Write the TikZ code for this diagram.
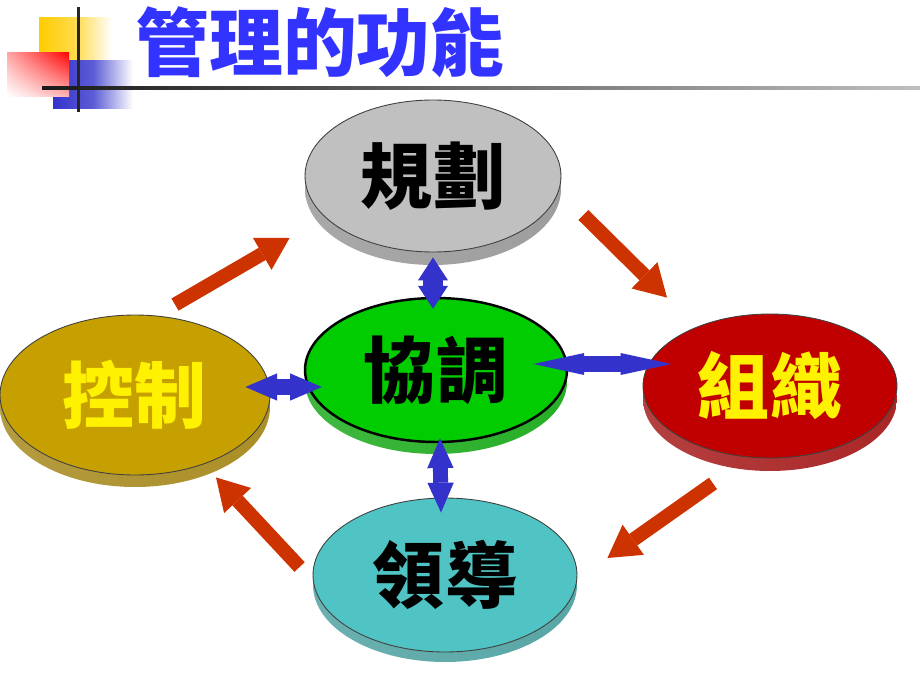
\documentclass[tikz,border=0pt]{standalone}
\usepackage{fontspec}
\newfontfamily\cjk{Noto Sans CJK TC}
\usetikzlibrary{shapes.geometric,arrows.meta,calc,shadings}
\definecolor{titleblue}{RGB}{51,51,255}
\definecolor{arrowblue}{RGB}{51,51,204}
\definecolor{arrowred}{RGB}{204,51,0}
\definecolor{markyellow}{RGB}{255,204,0}
\definecolor{plangray}{RGB}{192,192,192}
\definecolor{rimgray}{RGB}{140,140,140}
\definecolor{coordgreen}{RGB}{0,204,0}
\definecolor{rimgreen}{RGB}{0,160,0}
\definecolor{orgred}{RGB}{192,0,0}
\definecolor{rimred}{RGB}{155,0,0}
\definecolor{ctrlgold}{RGB}{198,160,0}
\definecolor{rimgold}{RGB}{155,122,0}
\definecolor{leadteal}{RGB}{80,196,196}
\definecolor{rimteal}{RGB}{58,150,150}
\begin{document}
\begin{tikzpicture}[x=0.02cm, y=-0.02cm,
        disk/.style={ellipse, inner sep=0pt, draw=black!75, line width=0.5pt,
            font=\cjk\bfseries\fontsize{41}{41}\selectfont},
        rim/.style={ellipse, inner sep=0pt, left color=#1!75!white, middle color=#1, right color=#1!85!white},
        bluearrow/.style n args={3}{draw=arrowblue, line width=#1,
            {Triangle[width=#2,length=#3,line width=0pt]}-{Triangle[width=#2,length=#3,line width=0pt]}},
        redarrow/.style={draw=arrowred, line width=8pt, -{Triangle[width=21pt,length=18pt,line width=0pt]}}]
        \useasboundingbox[fill=white] (0,0) rectangle (920,690);
        \shade[left color=markyellow, right color=white, middle color=markyellow!70] (39,17) rectangle (112,60);
        \shade[left color=arrowblue, right color=white, middle color=arrowblue!80] (53,60) rectangle (133,108);
        \shade[upper left=red!35, upper right=red, lower left=white, lower right=red!30] (7,52) rectangle (69,96);
        \fill[black!85] (76.5,7) rectangle (79.5,112);
        \shade[left color=black!90, right color=black!25] (42,86.5) rectangle (920,89.5);
        \node[font=\cjk\bfseries\fontsize{42}{42}\selectfont, text=titleblue] (title) at (320,42) {管理的功能};

        \node[rim=rimgray, minimum width=5.12cm, minimum height=3.04cm] (plan-rim) at (433,189) {};
        \node[disk, fill=plangray, minimum width=5.12cm, minimum height=3.04cm] (plan) at (433,176) {規劃};
        \node[rim=rimgreen, minimum width=5.24cm, minimum height=2.88cm] (coord-rim) at (436,382) {};
        \node[disk, fill=coordgreen, draw=black, line width=1.4pt, minimum width=5.24cm, minimum height=2.88cm] (coord) at (436,370) {協調};
        \node[rim=rimred, minimum width=5.08cm, minimum height=2.88cm] (org-rim) at (770,399) {};
        \node[disk, fill=orgred, text=yellow, minimum width=5.08cm, minimum height=2.88cm] (org) at (770,386) {組織};
        \node[rim=rimgold, minimum width=5.4cm, minimum height=3.2cm] (ctrl-rim) at (135,407) {};
        \node[disk, fill=ctrlgold, text=yellow, minimum width=5.4cm, minimum height=3.2cm] (ctrl) at (135,395) {控制};
        \node[rim=rimteal, minimum width=5.28cm, minimum height=3.08cm] (lead-rim) at (445,585) {};
        \node[disk, fill=leadteal, minimum width=5.28cm, minimum height=3.08cm] (lead) at (445,575) {領導};

        \draw[bluearrow={11pt}{17pt}{13pt}] ($(plan.south)+(0,5)$) -- ($(coord.north)+(-3,12)$);
        \draw[bluearrow={8.5pt}{15pt}{17pt}] ($(coord.south)+(4,-5)$) -- ($(lead.north)+(-4,15)$);
        \draw[bluearrow={9pt}{15.5pt}{18pt}] ($(ctrl.east)+(-25,-8)$) -- ($(coord.west)+(18,17)$);
        \draw[bluearrow={9pt}{12.5pt}{29pt}] ($(coord.east)+(-35,-6)$) -- ($(org.west)+(29,-22)$);

        \draw[redarrow] ($(ctrl.north)+(40,-10)$) -- ($(plan.west)+(-15,62)$);
        \draw[redarrow] ($(plan.east)+(22,39)$) -- ($(org.north)+(-103,-16)$);
        \draw[redarrow] ($(org.south)+(-57,25)$) -- ($(lead.east)+(30,-17)$);
        \draw[redarrow] ($(lead.west)+(-13,-8)$) -- ($(ctrl.south)+(81,2)$);
    \end{tikzpicture}
\end{document}
